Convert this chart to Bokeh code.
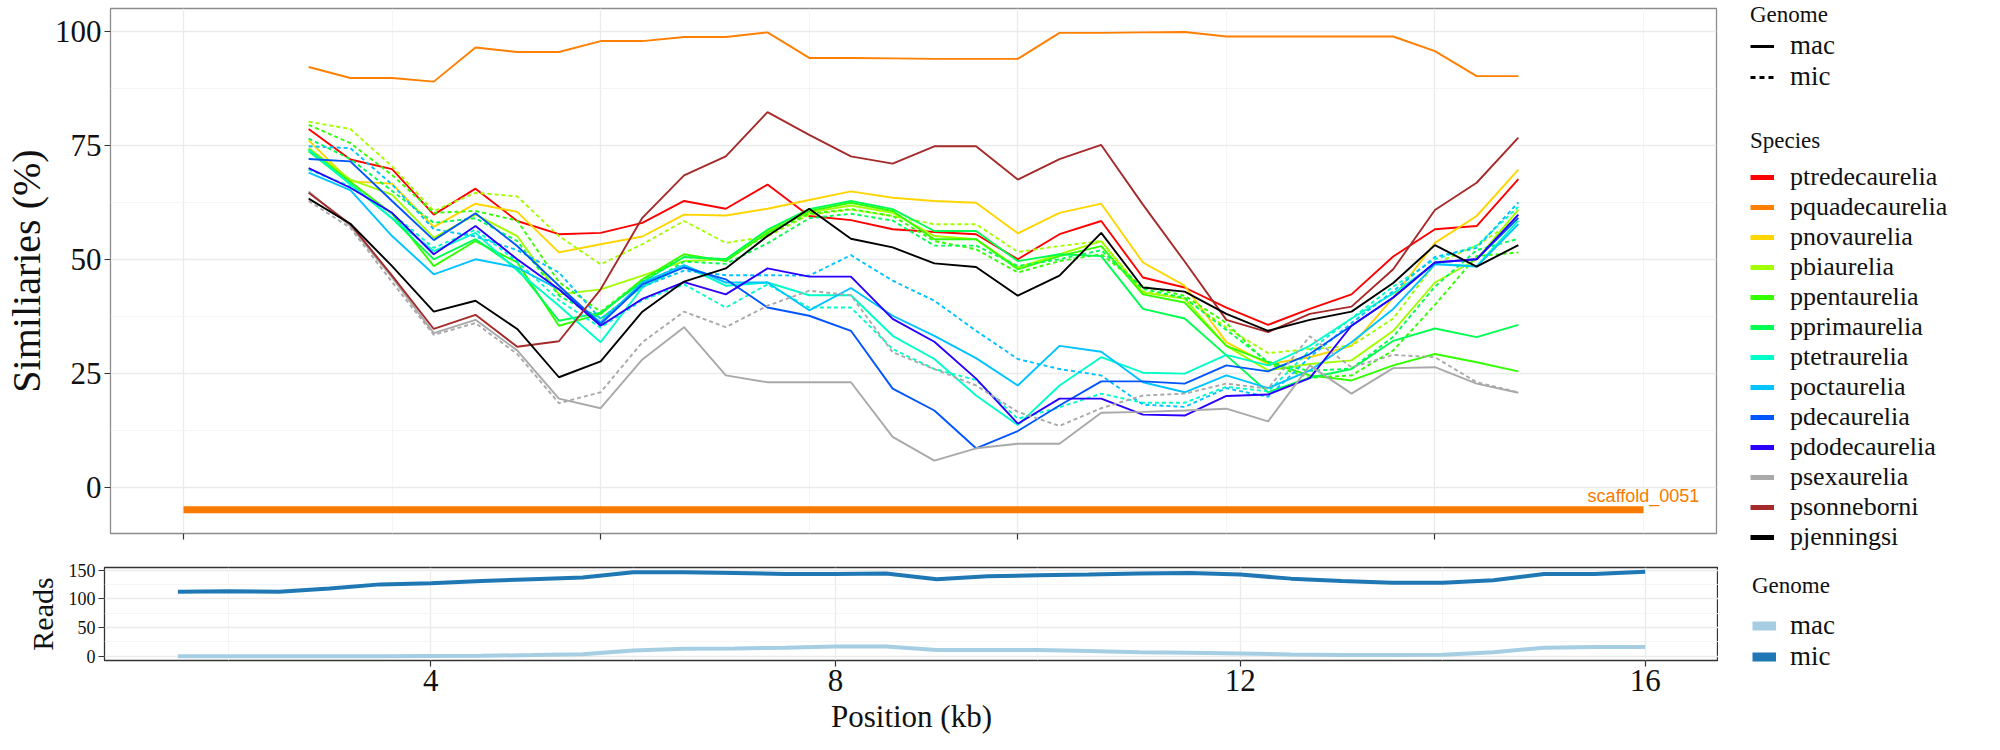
from bokeh.plotting import figure
from bokeh.models import Range1d, FixedTicker, Legend, LegendItem
from bokeh.layouts import column, row
from bokeh.embed import file_html
from bokeh.resources import INLINE
from bokeh.core.properties import value

# ---------------- data ----------------
position_kb = [1.5, 2.0, 2.5, 3.0, 3.5, 4.0, 4.5, 5.0, 5.5, 6.0, 6.5, 7.0, 7.5, 8.0, 8.5,
               9.0, 9.5, 10.0, 10.5, 11.0, 11.5, 12.0, 12.5, 13.0, 13.5, 14.0, 14.5, 15.0, 15.5, 16.0]

species = ["ptredecaurelia", "pquadecaurelia", "pnovaurelia", "pbiaurelia", "ppentaurelia",
           "pprimaurelia", "ptetraurelia", "poctaurelia", "pdecaurelia", "pdodecaurelia",
           "psexaurelia", "psonneborni", "pjenningsi"]
species_colors = ["#FF0000", "#FF7F00", "#FFD500", "#A2FF00", "#33FF00",
                  "#00FF50", "#00FFC8", "#00C3FF", "#0055FF", "#2A00FF",
                  "#A9A9A9", "#A52A2A", "#000000"]

ptredecaurelia_mac = [78.6, 71.9, 69.8, 59.8, 65.5, 58.4, 55.5, 55.8, 58.0, 62.8, 61.1, 66.4, 59.5, 58.6, 56.6,
                      56.0, 55.5, 50.0, 55.5, 58.4, 46.0, 43.8, 39.4, 35.6, 39.1, 42.3, 50.6, 56.6, 57.3, 67.6]
pquadecaurelia_mac = [92.2, 89.8, 89.8, 89.0, 96.5, 95.5, 95.5, 97.9, 97.9, 98.8, 98.8, 99.8, 94.2, 94.2, 94.1,
                      94.0, 94.0, 94.0, 99.7, 99.7, 99.8, 99.9, 98.9, 98.9, 98.9, 98.9, 98.9, 95.7, 90.2, 90.2]
pnovaurelia_mac = [76.1, 67.1, 66.6, 57.1, 62.2, 60.4, 51.5, 53.3, 55.0, 59.8, 59.6, 61.1, 63.0, 64.9, 63.5,
                   62.8, 62.4, 55.7, 60.2, 62.2, 49.3, 44.2, 31.8, 27.0, 28.5, 31.0, 41.6, 53.6, 59.5, 69.7]
pbiaurelia_mac = [74.4, 67.5, 64.2, 54.7, 59.8, 55.1, 42.3, 43.4, 46.4, 49.6, 50.0, 56.2, 60.3, 61.8, 60.2,
                  55.1, 54.4, 48.2, 51.1, 54.0, 42.7, 41.3, 31.0, 25.6, 27.0, 27.8, 34.3, 44.9, 50.0, 60.9]
ppentaurelia_mac = [74.1, 67.0, 60.0, 48.5, 54.0, 49.3, 35.4, 38.0, 45.6, 51.1, 49.6, 55.8, 60.6, 62.4, 60.6,
                    54.4, 54.4, 47.8, 50.7, 52.9, 42.3, 40.5, 31.0, 27.4, 24.5, 23.4, 26.7, 29.2, 27.4, 25.4]
pprimaurelia_mac = [73.7, 66.5, 59.0, 50.0, 54.4, 48.0, 36.5, 38.3, 45.0, 50.5, 50.0, 56.5, 61.0, 62.8, 61.0,
                    56.2, 56.2, 49.6, 51.1, 50.7, 39.1, 37.0, 28.9, 20.8, 24.0, 25.9, 32.1, 34.8, 32.9, 35.6]
ptetraurelia_mac = [74.1, 66.4, 59.0, 51.8, 55.8, 47.5, 39.8, 31.8, 43.8, 48.5, 44.2, 44.9, 42.1, 42.1, 33.2,
                    28.1, 20.1, 13.6, 22.3, 28.5, 25.1, 24.9, 29.0, 26.7, 31.0, 37.0, 42.5, 49.0, 48.5, 58.5]
poctaurelia_mac = [69.0, 65.2, 55.1, 46.7, 50.0, 48.2, 43.4, 36.2, 44.9, 48.7, 44.9, 44.9, 38.8, 43.7, 37.6,
                   33.2, 28.3, 22.3, 31.0, 29.7, 23.0, 20.8, 24.5, 21.7, 25.6, 31.8, 39.1, 48.9, 48.4, 57.7]
pdecaurelia_mac = [72.0, 71.5, 62.8, 54.2, 60.1, 52.9, 44.2, 35.8, 44.5, 48.2, 45.6, 39.4, 37.6, 34.3, 21.6,
                   16.8, 8.5, 12.3, 17.9, 23.2, 23.2, 22.7, 26.7, 25.4, 29.2, 35.4, 41.6, 49.3, 50.0, 59.1]
pdodecaurelia_mac = [70.0, 65.7, 60.2, 51.1, 57.3, 50.0, 43.4, 35.4, 41.3, 45.0, 42.3, 48.0, 46.2, 46.2, 36.9,
                     31.9, 23.8, 13.9, 19.4, 19.4, 15.9, 15.7, 20.0, 20.3, 23.9, 35.4, 41.6, 49.3, 50.0, 59.8]
psexaurelia_mac = [64.9, 57.3, 46.0, 33.8, 36.7, 30.0, 19.4, 17.3, 28.0, 35.1, 24.5, 23.0, 23.0, 23.0, 11.0,
                   5.8, 8.5, 9.5, 9.5, 16.3, 16.5, 16.8, 17.2, 14.4, 26.7, 20.5, 26.1, 26.3, 22.7, 20.7]
psonneborni_mac = [64.6, 57.7, 46.4, 34.7, 37.8, 30.8, 32.0, 43.4, 59.1, 68.4, 72.6, 82.3, 77.3, 72.6, 71.0,
                   74.8, 74.8, 67.5, 72.0, 75.1, 62.0, 49.5, 36.7, 34.0, 38.0, 39.6, 47.8, 60.8, 66.8, 76.7]
pjenningsi_mac = [63.3, 57.8, 48.5, 38.5, 40.9, 34.7, 24.1, 27.6, 38.5, 45.1, 48.0, 55.1, 61.1, 54.5, 52.6,
                  49.1, 48.3, 42.0, 46.4, 55.8, 43.8, 42.9, 38.0, 34.3, 36.7, 38.5, 44.8, 53.1, 48.4, 53.1]

pbiaurelia_mic = [80.2, 78.6, 70.4, 60.6, 64.6, 63.8, 55.1, 48.9, 53.3, 58.4, 53.6, 55.0, 59.8, 60.9, 59.5,
                  57.7, 57.7, 51.6, 52.9, 54.0, 43.0, 41.5, 35.0, 29.4, 30.3, 31.0, 37.0, 49.0, 53.0, 59.0]
ppentaurelia_mic = [79.5, 75.5, 68.5, 60.2, 60.6, 58.5, 45.0, 38.5, 45.5, 50.5, 50.0, 55.5, 60.0, 61.0, 59.5,
                    54.0, 52.2, 47.1, 49.6, 51.1, 44.0, 42.0, 36.0, 27.0, 24.0, 24.5, 30.0, 40.0, 50.7, 51.5]
pprimaurelia_mic = [76.5, 72.0, 65.0, 58.0, 59.0, 54.0, 42.0, 37.0, 44.0, 49.5, 49.0, 53.5, 59.0, 60.0, 58.5,
                    53.0, 53.0, 48.5, 50.0, 52.0, 43.5, 41.5, 34.5, 27.5, 25.5, 26.0, 33.0, 44.0, 52.0, 54.5]
ptetraurelia_mic = [69.7, 66.0, 60.0, 52.5, 56.5, 49.5, 41.0, 35.0, 41.0, 44.5, 39.4, 44.5, 39.4, 39.4, 30.3,
                    25.9, 23.5, 15.0, 17.5, 20.5, 18.5, 18.5, 22.0, 21.0, 30.0, 37.0, 44.0, 50.0, 53.0, 61.5]
poctaurelia_mic = [74.8, 74.4, 66.4, 56.6, 55.0, 52.0, 47.1, 36.9, 44.0, 47.5, 46.5, 46.5, 46.4, 50.9, 45.3,
                   40.9, 34.3, 28.1, 25.9, 24.5, 18.1, 17.6, 21.7, 19.8, 28.5, 36.0, 43.0, 50.5, 52.5, 62.5]
psexaurelia_mic = [62.8, 56.9, 45.0, 33.4, 36.0, 29.2, 18.4, 20.8, 31.8, 38.5, 35.1, 39.8, 43.1, 42.1, 29.6,
                   25.9, 22.3, 16.5, 13.4, 17.3, 20.1, 20.5, 22.7, 21.6, 33.1, 26.3, 29.0, 28.5, 23.0, 20.8]

reads_mac = [0, 0, 0, 0, 0, 0.5, 1, 2, 3.5, 10, 13, 13.5, 15, 17, 17,
             11, 11, 11, 9, 7, 6, 5, 3, 2, 2, 2.5, 7, 15, 16, 16]
reads_mic = [112, 113, 112, 118, 125, 127, 131, 134, 137, 146, 146, 145, 143, 143, 144,
             134, 139, 141, 142, 144, 145, 142, 135, 131, 128, 128, 132, 143, 143, 147]

genome_labels = ["mac", "mic"]
reads_colors = ["#A6CEE3", "#1F78B4"]

scaffold_name = "scaffold_0051"
scaffold_start_kb = 0.0
scaffold_end_kb = 17.5
scaffold_y = -5.0
scaffold_color = "#F87A00"

top_x_ticks = [0, 5, 10, 15]
top_x_minor = [2.5, 7.5, 12.5, 17.5]
top_y_ticks = [0, 25, 50, 75, 100]
top_y_minor = [12.5, 37.5, 62.5, 87.5]
bot_x_ticks = [4, 8, 12, 16]
bot_x_minor = [2, 6, 10, 14]
bot_y_ticks = [0, 50, 100, 150]
bot_y_minor = [25, 75, 125]

mac_series = [ptredecaurelia_mac, pquadecaurelia_mac, pnovaurelia_mac, pbiaurelia_mac, ppentaurelia_mac,
              pprimaurelia_mac, ptetraurelia_mac, poctaurelia_mac, pdecaurelia_mac, pdodecaurelia_mac,
              psexaurelia_mac, psonneborni_mac, pjenningsi_mac]
mic_series = {"pbiaurelia": pbiaurelia_mic, "ppentaurelia": ppentaurelia_mic, "pprimaurelia": pprimaurelia_mic,
              "ptetraurelia": ptetraurelia_mic, "poctaurelia": poctaurelia_mic, "psexaurelia": psexaurelia_mic}

SERIF = "Liberation Serif"
SANS = "Liberation Sans"
TXT = "#111111"

# ---------------- geometry ----------------
LEFT = 104
TOP_FRAME_W, TOP_FRAME_H = 1606, 525
BOT_FRAME_W, BOT_FRAME_H = 1614, 93
TOP_MB_TOP, TOP_MB_BOT = 8, 24
BOT_MB_TOP, BOT_MB_BOT = 10, 74
PANEL_W = LEFT + BOT_FRAME_W          # same outer width for both panels
LEG_W = 1984 - PANEL_W
TOP_H = TOP_MB_TOP + TOP_FRAME_H + TOP_MB_BOT
BOT_H = BOT_MB_TOP + BOT_FRAME_H + BOT_MB_BOT


def style_axes(fig, xt, xm, yt, ym):
    xtick = FixedTicker(ticks=xt, minor_ticks=xm)
    ytick = FixedTicker(ticks=yt, minor_ticks=ym)
    fig.xaxis.ticker = xtick
    fig.yaxis.ticker = ytick
    fig.xgrid.ticker = xtick
    fig.ygrid.ticker = ytick
    for g in (fig.xgrid, fig.ygrid):
        g.grid_line_color = "#EBEBEB"
        g.grid_line_width = 1.3
        g.minor_grid_line_color = "#F3F3F3"
        g.minor_grid_line_width = 0.8
    for ax in (fig.xaxis, fig.yaxis):
        ax.axis_line_color = None
        ax.major_tick_line_color = "#333333"
        ax.major_tick_line_width = 1.2
        ax.major_tick_in = 0
        ax.major_tick_out = 6
        ax.minor_tick_line_color = None
        ax.major_label_text_font = SERIF
        ax.major_label_text_color = TXT
        ax.axis_label_text_font = SERIF
        ax.axis_label_text_font_style = "normal"
        ax.axis_label_text_color = TXT


def legend_canvas(w, h):
    f = figure(output_backend="svg", toolbar_location=None, width=w, height=h,
               min_border=0, x_axis_type=None, y_axis_type=None,
               x_range=Range1d(0, 1), y_range=Range1d(0, 1),
               background_fill_color="white", border_fill_color="white")
    f.outline_line_color = None
    f.grid.visible = False
    f.frame_align = False
    return f


def key_line(f, **kw):
    # legend key renderer; its points lie outside the canvas ranges so only the key shows
    return f.line([-3, -2], [-3, -3], **kw)


def make_legend(items, title, loc, glyph_h, label_size, standoff, title_standoff):
    return Legend(items=items, title=title, location=loc, orientation="vertical",
                  padding=0, margin=0, spacing=0, glyph_width=24, glyph_height=glyph_h,
                  label_standoff=standoff, title_standoff=title_standoff,
                  border_line_color=None, background_fill_alpha=0,
                  label_text_font=SERIF, label_text_font_size=label_size, label_text_color=TXT,
                  title_text_font=SERIF, title_text_font_size="23px",
                  title_text_font_style="normal", title_text_color=TXT)


# ---------------- top panel ----------------
p = figure(output_backend="svg", toolbar_location=None,
           frame_width=TOP_FRAME_W, frame_height=TOP_FRAME_H,
           min_border_left=LEFT, min_border_right=PANEL_W - LEFT - TOP_FRAME_W,
           min_border_top=TOP_MB_TOP, min_border_bottom=TOP_MB_BOT,
           x_range=Range1d(-0.875, 18.375), y_range=Range1d(-10.2, 105.05),
           background_fill_color="white", border_fill_color="white")
style_axes(p, top_x_ticks, top_x_minor, top_y_ticks, top_y_minor)
p.outline_line_color = "#8C8C8C"
p.outline_line_width = 1.3
p.xaxis.major_label_overrides = {t: "" for t in top_x_ticks}
p.xaxis.major_label_text_font_size = "8px"
p.yaxis.major_label_text_font_size = "31px"
p.yaxis.major_label_standoff = 3
p.yaxis.axis_label = "Similiaries (%)"
p.yaxis.axis_label_text_font_size = "40px"
p.yaxis.axis_label_standoff = 3

for name, col, vals in zip(species, species_colors, mac_series):
    p.line(position_kb, vals, line_color=col, line_width=1.9)
    if name in mic_series:
        p.line(position_kb, mic_series[name], line_color=col, line_width=1.9, line_dash="4 3")

p.segment(x0=[scaffold_start_kb], y0=[scaffold_y], x1=[scaffold_end_kb], y1=[scaffold_y],
          line_color=scaffold_color, line_width=7, line_cap="butt")
p.text(x=[scaffold_end_kb], y=[scaffold_y + 3.1], text=[scaffold_name], text_font=value(SANS),
       text_font_size="18px", text_color=scaffold_color, text_align="center",
       text_baseline="alphabetic")

# legends of the top panel, on a canvas at its right
lt = legend_canvas(LEG_W, TOP_H)
k_mac = key_line(lt, line_color="black", line_width=3)
k_mic = key_line(lt, line_color="black", line_width=3, line_dash="5 4")
leg_g = make_legend([LegendItem(label=genome_labels[0], renderers=[k_mac]),
                     LegendItem(label=genome_labels[1], renderers=[k_mic])],
                    "Genome", (26, TOP_H - 92), 30, "27px", 16, 2)
lt.add_layout(leg_g)

sp_items = []
for name, col in zip(species, species_colors):
    r = key_line(lt, line_color=col, line_width=5, line_cap="butt")
    sp_items.append(LegendItem(label=name, renderers=[r]))
leg_s = make_legend(sp_items, "Species", (26, TOP_H - 552), 30, "26px", 16, 8)
lt.add_layout(leg_s)

# ---------------- bottom panel ----------------
p2 = figure(output_backend="svg", toolbar_location=None,
            frame_width=BOT_FRAME_W, frame_height=BOT_FRAME_H,
            min_border_left=LEFT, min_border_right=PANEL_W - LEFT - BOT_FRAME_W,
            min_border_top=BOT_MB_TOP, min_border_bottom=BOT_MB_BOT,
            x_range=Range1d(0.775, 16.725), y_range=Range1d(-7.35, 154.35),
            background_fill_color="white", border_fill_color="white")
style_axes(p2, bot_x_ticks, bot_x_minor, bot_y_ticks, bot_y_minor)
p2.outline_line_color = "#333333"
p2.outline_line_width = 1.3
p2.xaxis.major_label_text_font_size = "31px"
p2.xaxis.major_label_standoff = 3
p2.xaxis.axis_label = "Position (kb)"
p2.xaxis.axis_label_text_font_size = "31px"
p2.xaxis.axis_label_standoff = 5
p2.yaxis.major_label_text_font_size = "18px"
p2.yaxis.major_label_standoff = 3
p2.yaxis.axis_label = "Reads"
p2.yaxis.axis_label_text_font_size = "30px"
p2.yaxis.axis_label_standoff = 7

p2.line(position_kb, reads_mac, line_color=reads_colors[0], line_width=4)
p2.line(position_kb, reads_mic, line_color=reads_colors[1], line_width=4)

lb = legend_canvas(LEG_W, BOT_H)
kb_mac = key_line(lb, line_color=reads_colors[0], line_width=9, line_cap="butt")
kb_mic = key_line(lb, line_color=reads_colors[1], line_width=9, line_cap="butt")
leg_r = make_legend([LegendItem(label=genome_labels[0], renderers=[kb_mac]),
                     LegendItem(label=genome_labels[1], renderers=[kb_mic])],
                    "Genome", (34, 62), 31, "27px", 14, 11)
lb.add_layout(leg_r)

layout = column(row(p, lt, spacing=0), row(p2, lb, spacing=0), spacing=0)
open("out.html", "w").write(file_html(layout, INLINE))
